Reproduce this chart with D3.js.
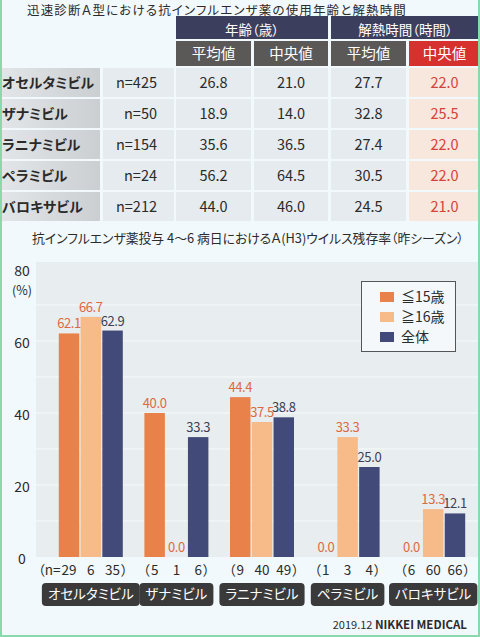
<!DOCTYPE html>
<html>
<head>
<meta charset="utf-8">
<script src="https://cdn.jsdelivr.net/npm/d3@7"></script>
<style>
  html, body { margin: 0; padding: 0; background: #f2f9fc; }
  svg { display: block; font-family: "Noto Sans CJK JP", "Noto Sans", sans-serif; }
  svg text { font-feature-settings: "palt"; }
</style>
</head>
<body>
<div id="chart-container"></div>
<script>
// Table data
const drugs = ["オセルタミビル", "ザナミビル", "ラニナミビル", "ペラミビル", "バロキサビル"];
const tableN = [425, 50, 154, 24, 212];
const ageMean = [26.8, 18.9, 35.6, 56.2, 44.0];
const ageMedian = [21.0, 14.0, 36.5, 64.5, 46.0];
const feverMean = [27.7, 32.8, 27.4, 30.5, 24.5];
const feverMedian = [22.0, 25.5, 22.0, 22.0, 21.0];

// Chart data
const seriesNames = ["≦15歳", "≧16歳", "全体"];
const under15 = [62.1, 40.0, 44.4, 0.0, 0.0];
const over16 = [66.7, 0.0, 37.5, 33.3, 13.3];
const total = [62.9, 33.3, 38.8, 25.0, 12.1];
const nUnder15 = [29, 5, 9, 1, 6];
const nOver16 = [6, 1, 40, 3, 60];
const nTotal = [35, 6, 49, 4, 66];
const yTicks = [0, 20, 40, 60, 80];

const W = 480, H = 637;
const colors = ["#e9814a", "#f6bb88", "#414a78"];
const labelColors = ["#dd6a3e", "#dd6a3e", "#3c3f55"];

const svg = d3.select("#chart-container")
  .append("svg")
  .attr("width", W)
  .attr("height", H);

const defs = svg.append("defs");
const grad = defs.append("linearGradient").attr("id", "nameGrad");
grad.append("stop").attr("offset", "0%").attr("stop-color", "#e3e6e8");
grad.append("stop").attr("offset", "100%").attr("stop-color", "#cbcfd2");

// Shrinks or grows a text's font so that it spans the given width
function fitWidth(t, width) {
  const fs = parseFloat(t.style("font-size"));
  const len = t.node().getComputedTextLength();
  t.style("font-size", `${(fs * width / len).toFixed(2)}px`);
}

// Spreads the letters of a text so that it spans the given width
function spreadWidth(t, width) {
  const len = t.node().getComputedTextLength();
  const n = t.text().length;
  t.style("letter-spacing", `${((width - len) / n).toFixed(2)}px`);
}

// Top title
svg.append("text")
  .attr("x", 27)
  .attr("y", 14.6)
  .style("font-size", "12.5px")
  .style("fill", "#2b2b2b")
  .text("迅速診断Ａ型における抗インフルエンザ薬の使用年齢と解熱時間")
  .call(t => spreadWidth(t, 380));

// Table headers
const cols = [
  { x: 0, w: 100 }, { x: 103, w: 71 }, { x: 176, w: 75 },
  { x: 254, w: 74 }, { x: 331, w: 75 }, { x: 409, w: 71 }
];

const head1 = [
  { label: "年齢（歳）", x: 176, w: 152 },
  { label: "解熱時間（時間）", x: 331, w: 149 }
];
svg.selectAll(".head1")
  .data(head1)
  .join("rect")
  .attr("x", d => d.x).attr("y", 16)
  .attr("width", d => d.w).attr("height", 23)
  .attr("fill", "#3c3e5e");
svg.selectAll(".head1text")
  .data(head1)
  .join("text")
  .attr("x", d => d.x + d.w / 2).attr("y", 34.5)
  .attr("text-anchor", "middle")
  .style("font-size", "13.5px")
  .style("fill", "#fff")
  .text(d => d.label);

const head2 = ["平均値", "中央値", "平均値", "中央値"];
svg.selectAll(".head2")
  .data(head2)
  .join("rect")
  .attr("x", (d, i) => cols[i + 2].x).attr("y", 41)
  .attr("width", (d, i) => cols[i + 2].w).attr("height", 25)
  .attr("fill", (d, i) => i === 3 ? "#d6302f" : "#5b5957");
svg.selectAll(".head2text")
  .data(head2)
  .join("text")
  .attr("x", (d, i) => cols[i + 2].x + cols[i + 2].w / 2).attr("y", 59)
  .attr("text-anchor", "middle")
  .style("font-size", "14.5px")
  .style("fill", "#fff")
  .text(d => d);

// Table rows
const rowTop = i => 68 + i * 31;
const rows = svg.selectAll(".row")
  .data(drugs)
  .join("g")
  .attr("transform", (d, i) => `translate(0,${rowTop(i)})`);

rows.each(function (d, i) {
  const g = d3.select(this);
  const cells = [d, `n=${tableN[i]}`, ageMean[i].toFixed(1), ageMedian[i].toFixed(1),
    feverMean[i].toFixed(1), feverMedian[i].toFixed(1)];
  cells.forEach((c, j) => {
    g.append("rect")
      .attr("x", cols[j].x).attr("width", cols[j].w)
      .attr("height", 29)
      .attr("fill", j === 0 ? "url(#nameGrad)" : j === 5 ? "#f7e7dd" : "#e5ebee");
    const t = g.append("text")
      .attr("y", 20)
      .style("font-size", j === 0 ? "14px" : "14.5px")
      .style("font-weight", j === 0 ? "bold" : "normal")
      .style("fill", j === 5 ? "#d5423a" : "#2a2a2a")
      .text(c);
    if (j === 0) t.attr("x", 2);
    else if (j === 1) t.attr("x", 157).attr("text-anchor", "end");
    else t.attr("x", cols[j].x + cols[j].w / 2).attr("text-anchor", "middle");
  });
});

// Chart title
svg.append("text")
  .attr("x", 32)
  .attr("y", 243)
  .style("font-size", "14px")
  .style("fill", "#2b2b2b")
  .text("抗インフルエンザ薬投与 4～6 病日におけるＡ(H3)ウイルス残存率（昨シーズン）")
  .call(t => fitWidth(t, 432));

// Scales
const x = d3.scaleBand()
  .domain(drugs)
  .range([48, 476]);

const x1 = d3.scaleBand()
  .domain(seriesNames)
  .range([-32, 32])
  .paddingInner(0.06);

const y = d3.scaleLinear()
  .domain([0, 80])
  .range([557, 269]);

// Plot background
svg.append("rect")
  .attr("x", 36).attr("y", 262)
  .attr("width", 442).attr("height", 557 - 262)
  .attr("fill", "#e8edef");

// Gridlines
svg.selectAll(".grid")
  .data(d3.range(10, 80, 10))
  .join("line")
  .attr("x1", 36).attr("x2", 478)
  .attr("y1", d => y(d)).attr("y2", d => y(d))
  .attr("stroke", "#f7fafb")
  .attr("stroke-width", 1);

// Y axis labels
svg.append("g")
  .attr("transform", "translate(29,2)")
  .call(d3.axisLeft(y).tickValues(yTicks).tickSize(0).tickPadding(0))
  .call(g => g.select(".domain").remove())
  .selectAll(".tick text")
  .attr("x", -7)
  .attr("text-anchor", "middle")
  .style("font-family", "\"Noto Sans CJK JP\", sans-serif")
  .style("font-size", "14px")
  .style("fill", "#2b2b2b");

svg.append("text")
  .attr("x", 22).attr("y", 295)
  .attr("text-anchor", "middle")
  .style("font-size", "12.5px")
  .style("fill", "#2b2b2b")
  .text("(%)");

// Bars
const series = [under15, over16, total];
const barData = [];
drugs.forEach((d, i) => {
  series.forEach((s, k) => barData.push({ drug: d, key: seriesNames[k], k, value: s[i] }));
});

svg.selectAll(".bar")
  .data(barData)
  .join("rect")
  .attr("x", d => x(d.drug) + x.bandwidth() / 2 + x1(d.key))
  .attr("y", d => y(d.value))
  .attr("width", x1.bandwidth())
  .attr("height", d => y(0) - y(d.value))
  .attr("fill", d => colors[d.k]);

// Value labels
svg.selectAll(".val")
  .data(barData)
  .join("text")
  .attr("x", d => x(d.drug) + x.bandwidth() / 2 + x1(d.key) + x1.bandwidth() / 2)
  .attr("y", d => y(d.value) - 5)
  .attr("text-anchor", "middle")
  .style("font-size", "13px")
  .style("letter-spacing", "-0.4px")
  .style("fill", d => labelColors[d.k])
  .text(d => d.value.toFixed(1));

// n labels
const nSeries = [nUnder15, nOver16, nTotal];
drugs.forEach((d, i) => {
  nSeries.forEach((s, k) => {
    const cx = x(d) + x.bandwidth() / 2 + x1(seriesNames[k]) + x1.bandwidth() / 2;
    const t = svg.append("text")
      .attr("x", cx).attr("y", 575)
      .attr("text-anchor", "middle")
      .style("font-size", "13.5px")
      .style("fill", "#2b2b2b")
      .text(s[i]);
    const half = t.node().getComputedTextLength() / 2;
    if (k === 0) {
      svg.append("text")
        .attr("x", cx - half - 1).attr("y", 575)
        .attr("text-anchor", "end")
        .style("font-size", "13.5px")
        .style("fill", "#2b2b2b")
        .text(i === 0 ? "（n=" : "（");
    }
    if (k === 2) {
      svg.append("text")
        .attr("x", cx + half + 1).attr("y", 575)
        .style("font-size", "13.5px")
        .style("fill", "#2b2b2b")
        .text("）");
    }
  });
});

// Category boxes
drugs.forEach(d => {
  const cx = x(d) + x.bandwidth() / 2;
  const t = svg.append("text")
    .attr("x", cx).attr("y", 599)
    .attr("text-anchor", "middle")
    .style("font-size", "13.5px")
    .style("fill", "#fff")
    .text(d);
  const w = t.node().getComputedTextLength() + 12;
  svg.insert("rect", () => t.node())
    .attr("x", cx - w / 2).attr("y", 583)
    .attr("width", w).attr("height", 23)
    .attr("rx", 4)
    .attr("fill", "#3a3a3a");
});

// Legend
svg.append("rect")
  .attr("x", 361.5).attr("y", 281.5)
  .attr("width", 94).attr("height", 70)
  .attr("fill", "#f4f8fa")
  .attr("stroke", "#555")
  .attr("stroke-width", 1);

const legend = svg.selectAll(".legend")
  .data(seriesNames)
  .join("g")
  .attr("transform", (d, i) => `translate(380,${297 + i * 20})`);
legend.append("rect")
  .attr("y", -5).attr("width", 14).attr("height", 10)
  .attr("fill", (d, i) => colors[i]);
legend.append("text")
  .attr("x", 21).attr("y", 5)
  .style("font-size", "14px")
  .style("fill", "#2b2b2b")
  .text(d => d);

// Footer
svg.append("text")
  .attr("x", 467).attr("y", 629)
  .attr("text-anchor", "end")
  .style("font-size", "11px")
  .style("fill", "#2b2b2b")
  .call(t => t.append("tspan").text("2019.12  "))
  .call(t => t.append("tspan").style("font-weight", "bold").style("font-size", "11.5px").text("NIKKEI MEDICAL"));

// Frame
svg.append("path")
  .attr("d", `M1,0 V${H - 1} H${W - 1} V0`)
  .attr("fill", "none")
  .attr("stroke", "#8ad9ad")
  .attr("stroke-width", 2);
</script>
</body>
</html>
